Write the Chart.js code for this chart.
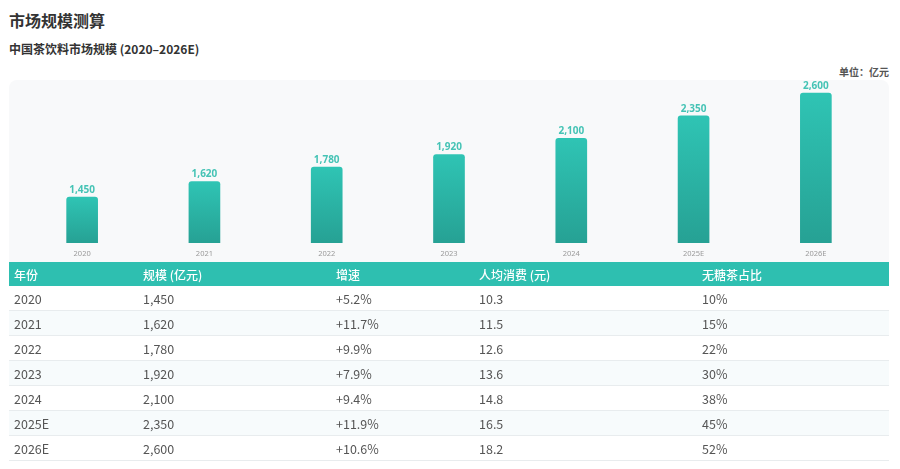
<!DOCTYPE html>
<html>
<head>
<meta charset="utf-8">
<script src="https://cdn.jsdelivr.net/npm/chart.js@4/dist/chart.umd.min.js"></script>
<style>
  html, body { margin: 0; padding: 0; background: #fff; }
  body { width: 900px; height: 469px; position: relative; overflow: hidden;
         font-family: "Noto Sans CJK SC", "Noto Sans", sans-serif; color: #333; }
  #title { position: absolute; left: 9px; top: 11px; font-size: 16px; line-height: 18px; font-weight: 700; color: #333; }
  #subtitle { position: absolute; left: 9px; top: 42px; font-size: 12px; line-height: 14px; font-weight: 700; color: #333; }
  #unit { position: absolute; right: 11px; top: 66px; font-size: 10px; line-height: 12px; font-weight: 700; color: #555; }
  #panel { position: absolute; left: 9px; top: 80px; width: 880px; height: 182px;
           background: #f8f9fa; border-radius: 8px 8px 0 0; }
  #panel canvas { position: absolute; left: 0; top: 0; }
  #tbl { position: absolute; left: 9px; top: 262px; width: 880px; border-collapse: collapse; table-layout: fixed; }
  #tbl th { background: #2ebfb0; color: #fff; font-size: 12px; font-weight: 500; text-align: left;
            height: 24px; padding: 0 0 0 5px; }
  #tbl td { font-size: 12.5px; color: #555; height: 24px; padding: 0 0 0 5px;
            border-bottom: 1px solid #e8ecee; }
  #tbl tr:nth-child(even) td { background: #f7fbfc; }
</style>
</head>
<body>
<div id="title">市场规模测算</div>
<div id="subtitle">中国茶饮料市场规模 (2020–2026E)</div>
<div id="unit">单位：亿元</div>
<div id="panel"><canvas id="c"></canvas></div>
<table id="tbl">
  <colgroup>
    <col style="width:129px"><col style="width:193px"><col style="width:143px"><col style="width:223px"><col style="width:192px">
  </colgroup>
  <thead><tr id="head"></tr></thead>
  <tbody id="body"></tbody>
</table>
<script>
var years = ["2020", "2021", "2022", "2023", "2024", "2025E", "2026E"];
var marketSize = [1450, 1620, 1780, 1920, 2100, 2350, 2600];
var growth = ["+5.2%", "+11.7%", "+9.9%", "+7.9%", "+9.4%", "+11.9%", "+10.6%"];
var perCapita = ["10.3", "11.5", "12.6", "13.6", "14.8", "16.5", "18.2"];
var sugarFreeShare = ["10%", "15%", "22%", "30%", "38%", "45%", "52%"];
var headers = ["年份", "规模 (亿元)", "增速", "人均消费 (元)", "无糖茶占比"];

// table
var head = document.getElementById("head");
headers.forEach(function (h) {
  var th = document.createElement("th");
  th.textContent = h;
  head.appendChild(th);
});
var body = document.getElementById("body");
years.forEach(function (y, i) {
  var tr = document.createElement("tr");
  [y, marketSize[i].toLocaleString("en-US"), growth[i], perCapita[i], sugarFreeShare[i]].forEach(function (v) {
    var td = document.createElement("td");
    td.textContent = v;
    tr.appendChild(td);
  });
  body.appendChild(tr);
});

// value labels above bars
var valueLabels = {
  id: "valueLabels",
  afterDatasetsDraw: function (chart) {
    var ctx = chart.ctx;
    var meta = chart.getDatasetMeta(0);
    ctx.save();
    ctx.font = "bold 10px 'Noto Sans', sans-serif";
    ctx.fillStyle = "#45c3b5";
    ctx.textAlign = "center";
    ctx.textBaseline = "middle";
    meta.data.forEach(function (bar, i) {
      ctx.fillText(marketSize[i].toLocaleString("en-US"), bar.x, bar.y - 7);
    });
    ctx.restore();
  }
};

var canvas = document.getElementById("c");
canvas.width = 880; canvas.height = 184;
var ctx = canvas.getContext("2d");
var myChart = new Chart(ctx, {
  type: 'bar',
  data: {
    labels: years,
    datasets: [{
      data: marketSize,
      barThickness: 31,
      borderRadius: 3,
      backgroundColor: function (context) {
        var chart = context.chart;
        var area = chart.chartArea;
        if (!area || !chart.scales.y) return "#2bb5a6";
        var top = chart.scales.y.getPixelForValue(context.raw);
        var g = chart.ctx.createLinearGradient(0, top, 0, area.bottom);
        g.addColorStop(0, "#2fc4b4");
        g.addColorStop(1, "#26a194");
        return g;
      }
    }]
  },
  options: {
    responsive: false,
    animation: false,
    layout: { padding: { left: 12, right: 12, top: 0, bottom: 0 } },
    plugins: { legend: { display: false }, tooltip: { enabled: false } },
    scales: {
      x: {
        grid: { display: false, drawTicks: false },
        border: { display: false },
        ticks: { padding: 6, color: "#9a9a9a", font: { size: 7.5, family: "'Noto Sans', sans-serif" } }
      },
      y: { display: false, min: 940, max: 2746 }
    }
  },
  plugins: [valueLabels]
});
</script>
</body>
</html>
